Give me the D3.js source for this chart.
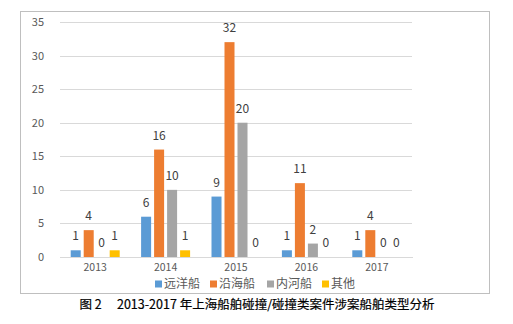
<!DOCTYPE html>
<html><head><meta charset="utf-8">
<script src="https://cdn.jsdelivr.net/npm/d3@7"></script>
<style>body{margin:0;background:#fff;} svg{display:block;}</style>
</head><body>
<svg id="c" width="513" height="324"></svg>
<script>
const categories = ["2013","2014","2015","2016","2017"];
const seriesNames = ["远洋船","沿海船","内河船","其他"];
const s远洋船 = [1,6,9,1,1];
const s沿海船 = [4,16,32,11,4];
const s内河船 = [0,10,20,2,0];
const s其他 = [1,1,0,0,0];
const seriesValues = [s远洋船, s沿海船, s内河船, s其他];
const colors = ["#5b9bd5","#ed7d31","#a5a5a5","#ffc000"];
const yTicks = [0,5,10,15,20,25,30,35];
const caption = "图 2　 2013-2017 年上海船舶碰撞/碰撞类案件涉案船舶类型分析";

(function(){
const svg = d3.select("#c");
const font = "'Noto Sans CJK SC', 'Liberation Sans', sans-serif";
svg.append("rect").attr("x",20.5).attr("y",11.5).attr("width",469).attr("height",282)
  .attr("fill","#fff").attr("stroke","#bfbfbf").attr("stroke-width",1);

const pl=60, pr=412, pt=22, pb=257;
const x = d3.scaleBand().domain(categories).range([pl,pr]).paddingInner(0).paddingOuter(0);
const y = d3.scaleLinear().domain([0,35]).range([pb,pt]);
const xs = d3.scaleBand().domain(d3.range(4)).range([0,49]).paddingInner(0.23);

const yAxis = d3.axisLeft(y).tickValues(yTicks).tickSize(-(pr-pl)).tickPadding(16);
const gy = svg.append("g").attr("transform",`translate(${pl},0)`).call(yAxis);
gy.select(".domain").remove();
gy.selectAll(".tick line").attr("stroke","#d9d9d9").attr("shape-rendering","crispEdges");
gy.selectAll(".tick text").attr("fill","#595959").attr("font-size","11px").attr("font-family",font);

const xAxis = d3.axisBottom(x).tickSize(0).tickPadding(7);
const gx = svg.append("g").attr("transform",`translate(0,${pb})`).call(xAxis);
gx.select(".domain").attr("stroke","#d9d9d9").attr("shape-rendering","crispEdges");
gx.selectAll(".tick text").attr("fill","#595959").attr("font-size","10.5px").attr("font-family",font);

const groups = svg.append("g").selectAll("g").data(categories).join("g")
  .attr("transform",d=>`translate(${x(d)+x.bandwidth()/2-24.5},0)`);
groups.each(function(cat,ci){
  const g = d3.select(this);
  seriesValues.forEach((vals,si)=>{
    const v = vals[ci];
    g.append("rect").attr("x",xs(si)).attr("y",y(v)).attr("width",xs.bandwidth())
      .attr("height",pb-y(v)).attr("fill",colors[si]);
    g.append("text").attr("x",xs(si)+xs.bandwidth()/2).attr("y",y(v)-10)
      .attr("text-anchor","middle").attr("font-size","12px").attr("font-family",font)
      .attr("fill","#404040").text(v);
  });
});

const legendX = [155,210,267,322];
const lg = svg.append("g").selectAll("g").data(seriesNames).join("g")
  .attr("transform",(d,i)=>`translate(${legendX[i]},284)`);
lg.append("rect").attr("x",0).attr("y",-3.5).attr("width",7).attr("height",7).attr("fill",(d,i)=>colors[i]);
lg.append("text").attr("x",9).attr("y",0).attr("dy","0.35em").attr("font-size","12px")
  .attr("font-family",font).attr("fill","#595959").text(d=>d);

svg.append("text").attr("x",257).attr("y",305).attr("dy","0.35em").attr("text-anchor","middle")
  .attr("font-size","12.5px").attr("font-weight","normal").attr("font-family",font).attr("fill","#000")
  .attr("stroke","#000").attr("stroke-width",0.2)
  .text(caption);
})();
</script>
</body></html>
